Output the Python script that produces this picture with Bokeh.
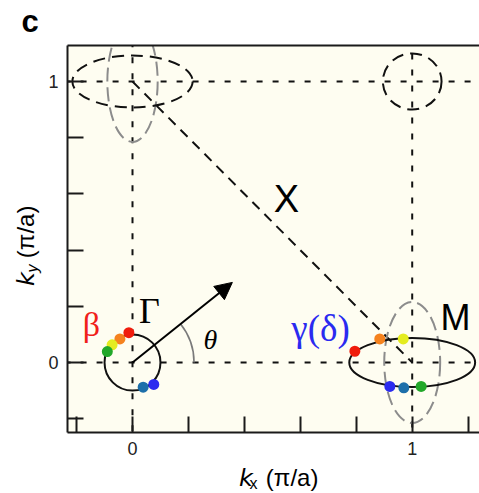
import math
from bokeh.plotting import figure
from bokeh.models import Range1d, FixedTicker, LinearAxis, Label, Arrow, NormalHead
from bokeh.embed import file_html
from bokeh.resources import INLINE

# ---------------- data ----------------
x_major_ticks = [0, 1]
x_minor_ticks = [-0.2, 0.2, 0.4, 0.6, 0.8, 1.2]
y_major_ticks = [0, 1]
y_minor_ticks = [-0.2, 0.2, 0.4, 0.6, 0.8]

# high-symmetry dashed lines (segments)
hs_x0 = [-0.3, -0.3, 0.0, 1.0]
hs_y0 = [1.0, 0.0, 1.2, 1.1]
hs_x1 = [1.21, 1.3, 0.0, 1.0]
hs_y1 = [1.0, 0.0, -0.3, -0.3]

# Gamma-M diagonal
diag_x = [0.0, 1.0]
diag_y = [1.0, 0.0]

# black dashed contours (folded pockets)
bd_x = [0.0, 1.0]
bd_y = [1.0, 1.0]
bd_w = [0.43, 0.21]
bd_h = [0.185, 0.20]

# grey dashed contours (rotated pockets)
gd_x = [0.0, 1.0]
gd_y = [1.0, 0.0]
gd_w = [0.18, 0.20]
gd_h = [0.43, 0.43]

# solid Fermi-surface contours
fs_x = [0.0, 1.0]
fs_y = [0.0, 0.0]
fs_w = [0.20, 0.45]
fs_h = [0.20, 0.175]

# coloured points on beta (Gamma) and gamma(delta) (M) pockets
dot_colors = ["#f01c0c", "#f5821e", "#e4ec20", "#22a82a", "#1d6faa", "#2b2bef"]
beta_kx = [-0.013, -0.045, -0.073, -0.090, 0.038, 0.076]
beta_ky = [0.106, 0.084, 0.063, 0.039, -0.088, -0.078]
gd_kx = [0.795, 0.884, 0.968, 1.032, 0.970, 0.920]
gd_ky = [0.040, 0.084, 0.084, -0.085, -0.090, -0.085]

# theta arrow
arrow_vec = [0.357, 0.285]
arc_radius = 0.22

# ---------------- layout ----------------
W, H = 479, 493
FL, FR, FT, FB = 67, 479, 45, 432
X0, X1 = -0.2324, 1.2406
Y0, Y1 = -0.2491, 1.1281

def dx(px):
    return X0 + (px - FL) / (FR - FL) * (X1 - X0)

def dy(py):
    return Y0 + (FB - py) / (FB - FT) * (Y1 - Y0)

p = figure(width=W, height=H, output_backend="svg", toolbar_location=None,
           x_range=Range1d(X0, X1), y_range=Range1d(Y0, Y1),
           x_axis_location=None, y_axis_location=None,
           min_border_left=FL, min_border_right=W - FR, min_border_top=FT,
           min_border_bottom=H - FB)
p.grid.visible = False
p.outline_line_color = None
p.background_fill_color = "#fefdf1"
p.border_fill_color = "white"

AX = "#1a1a1a"

def style_axis(ax, major, minor):
    ax.ticker = FixedTicker(ticks=major, minor_ticks=minor)
    ax.axis_line_width = 2
    ax.axis_line_color = AX
    ax.major_tick_in = 16
    ax.major_tick_out = 0
    ax.minor_tick_in = 16
    ax.minor_tick_out = 0
    ax.major_tick_line_width = 2
    ax.minor_tick_line_width = 2
    ax.major_tick_line_color = AX
    ax.minor_tick_line_color = AX
    ax.major_label_text_font = "Liberation Sans"
    ax.major_label_text_font_size = "18px"
    ax.major_label_text_color = "#222222"
    ax.major_label_standoff = 9

xa = LinearAxis()
style_axis(xa, x_major_ticks, x_minor_ticks)
p.add_layout(xa, "below")
ya = LinearAxis()
style_axis(ya, y_major_ticks, y_minor_ticks)
p.add_layout(ya, "left")
ta = LinearAxis(ticker=FixedTicker(ticks=[]), axis_line_width=2, axis_line_color=AX,
                major_label_text_font_size="0px", major_tick_in=0, major_tick_out=0,
                minor_tick_in=0, minor_tick_out=0, major_label_standoff=0)
p.add_layout(ta, "above")

# high symmetry lines
p.segment(x0=hs_x0, y0=hs_y0, x1=hs_x1, y1=hs_y1, line_color="#111111",
          line_width=2, line_dash="6 10")
p.line(diag_x, diag_y, line_color="#111111", line_width=2, line_dash="10 7")

# grey dashed pockets
p.ellipse(x=gd_x, y=gd_y, width=gd_w, height=gd_h, fill_color=None,
          line_color="#8c8c8c", line_width=2, line_dash="14 6")
# black dashed pockets
p.ellipse(x=bd_x, y=bd_y, width=bd_w, height=bd_h, fill_color=None,
          line_color="#111111", line_width=2, line_dash="12 7")
# solid pockets
p.ellipse(x=fs_x, y=fs_y, width=fs_w, height=fs_h, fill_color=None,
          line_color="#111111", line_width=2)

# theta arc + arrow
ang = math.atan2(arrow_vec[1], arrow_vec[0])
p.arc(x=[0], y=[0], radius=arc_radius, start_angle=0, end_angle=ang,
      line_color="#7a7a7a", line_width=1.6)
p.add_layout(Arrow(end=NormalHead(size=17, fill_color="black", line_color="black"),
                   x_start=0, y_start=0, x_end=arrow_vec[0], y_end=arrow_vec[1],
                   line_width=2, line_color="black"))

# coloured points
p.scatter(beta_kx, beta_ky, size=11, color=dot_colors, line_color=None)
p.scatter(gd_kx, gd_ky, size=11, color=dot_colors, line_color=None)

# ---------------- text ----------------
MID = 0.36   # label anchor sits this many ems above the baseline

def lab(text, px, py, size, font="Liberation Sans", style="normal", color="black",
        align="center", rotated=False, place="center"):
    if rotated:
        ax_, ay_, angle = px - MID * size, py, math.pi / 2
    else:
        ax_, ay_, angle = px, py - MID * size, 0.0
    l = Label(x=dx(ax_), y=dy(ay_), text=text, text_font=font,
              text_font_size=f"{size}px", text_font_style=style,
              text_color=color, text_align=align,
              text_baseline="alphabetic", angle=angle)
    if place == "center":
        p.add_layout(l)
    else:
        p.add_layout(l, place)

lab("X", 286, 212, 38)
lab("M", 455, 330, 36)
lab("Γ", 149, 323, 36, font="Liberation Serif")
lab("θ", 210, 349, 28, font="Liberation Serif", style="italic")
lab("β", 91, 336, 34, font="Liberation Serif", color="#f0201a")
lab("γ(δ)", 320, 341, 37, font="Liberation Serif", color="#2a2af0")

# outside texts: placed in side panels (sized to fit the fixed borders)
GAP = "\u00a0\u00a0"
lab("c", 21, 32, 31, style="bold", align="left", place="above")
lab("\U0001D62C" + GAP + "(π/a)", 238, 486, 24, align="left", place="below")
lab("x", 249, 489, 16, align="left", place="left")
lab("\U0001D62C" + GAP + "(π/a)", 34, 285, 24, align="left", rotated=True, place="left")
lab("y", 38, 272, 16, style="italic", align="left", rotated=True, place="above")

open("out.html", "w").write(file_html(p, INLINE))
